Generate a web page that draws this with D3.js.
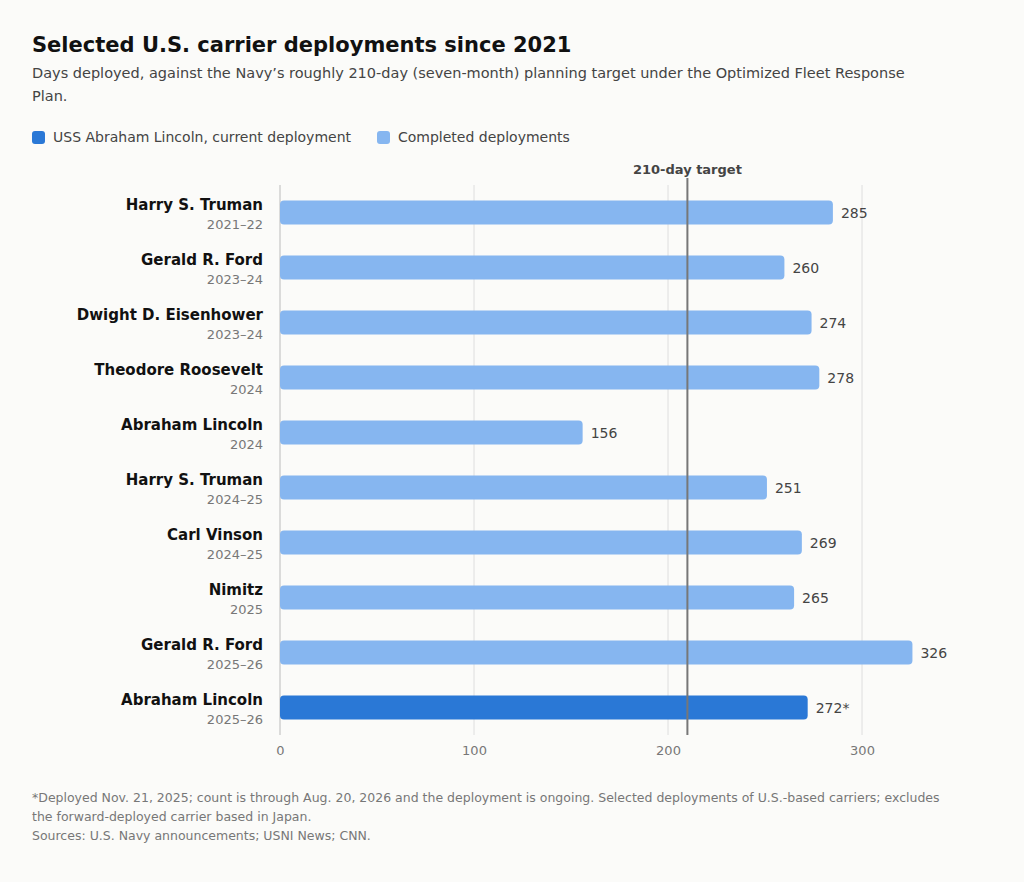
<!DOCTYPE html>
<html><head><meta charset="utf-8">
<script src="https://cdn.jsdelivr.net/npm/d3@7"></script>
<style>
body{margin:0;background:#fbfbf9;font-family:"DejaVu Sans",sans-serif;}
</style></head>
<body><svg id="chart" width="1024" height="882"></svg>
<script>
// data
const carriers = ['Harry S. Truman','Gerald R. Ford','Dwight D. Eisenhower','Theodore Roosevelt','Abraham Lincoln','Harry S. Truman','Carl Vinson','Nimitz','Gerald R. Ford','Abraham Lincoln']
const years = ['2021–22','2023–24','2023–24','2024','2024','2024–25','2024–25','2025','2025–26','2025–26']
const days = [285,260,274,278,156,251,269,265,326,272]
const current = [false,false,false,false,false,false,false,false,false,true]
const ticks = [0,100,200,300]
const target = 210

const svg = d3.select('#chart')
svg.append('rect').attr('width',1024).attr('height',882).attr('fill','#fbfbf9')

const x = d3.scaleLinear().domain([0,100]).range([280,474])
const y = d3.scaleBand().domain(d3.range(days.length)).range([185,735]).paddingInner(0.56).paddingOuter(0.28)

svg.append('text').attr('x',32).attr('y',52).attr('font-size',21).attr('font-weight','bold').attr('fill','#111')
    .text('Selected U.S. carrier deployments since 2021')
const sub = ['Days deployed, against the Navy’s roughly 210-day (seven-month) planning target under the Optimized Fleet Response','Plan.']
svg.selectAll('.sub').data(sub).enter().append('text').attr('x',32).attr('y',(d,i)=>78+i*23)
    .attr('font-size',14.5).attr('fill','#444').text(d=>d)

// legend
const leg = [['USS Abraham Lincoln, current deployment','#2a78d6',32],['Completed deployments','#86b6f0',377]]
leg.forEach(l=>{
    svg.append('rect').attr('x',l[2]).attr('y',131).attr('width',13).attr('height',13).attr('rx',3).attr('fill',l[1])
    svg.append('text').attr('x',l[2]+21).attr('y',142).attr('font-size',14).attr('fill','#444').text(l[0])
})

// grid
svg.selectAll('.grid').data(ticks.slice(1)).enter().append('line')
    .attr('x1',d=>x(d)).attr('x2',d=>x(d)).attr('y1',185).attr('y2',735).attr('stroke','#dedede')
svg.append('line').attr('x1',280).attr('x2',280).attr('y1',185).attr('y2',735).attr('stroke','#bbb')

const axis = svg.append('g').attr('transform','translate(0,735)').call(d3.axisBottom(x).tickValues(ticks).tickSize(0).tickPadding(11))
axis.select('.domain').remove()
axis.selectAll('text').attr('font-size',13).attr('fill','#777').attr('font-family','DejaVu Sans')

// bars
svg.selectAll('.bar').data(days).enter().append('rect')
    .attr('x',x(0)).attr('y',(d,i)=>y(i)).attr('width',d=>x(d)-x(0)).attr('height',y.bandwidth())
    .attr('rx',4).attr('fill',(d,i)=>current[i]?'#2a78d6':'#86b6f0')

svg.selectAll('.val').data(days).enter().append('text')
    .attr('x',d=>x(d)+8).attr('y',(d,i)=>y(i)+y.bandwidth()/2+5).attr('font-size',14).attr('fill','#444')
    .text((d,i)=>current[i]?d+'*':d)

svg.selectAll('.name').data(carriers).enter().append('text')
    .attr('x',263).attr('y',(d,i)=>y(i)+y.bandwidth()/2-3).attr('text-anchor','end')
    .attr('font-size',15).attr('font-weight','bold').attr('fill','#111').text(d=>d)
svg.selectAll('.yr').data(years).enter().append('text')
    .attr('x',263).attr('y',(d,i)=>y(i)+y.bandwidth()/2+16).attr('text-anchor','end')
    .attr('font-size',13).attr('fill','#777').text(d=>d)

// target line
svg.append('line').attr('x1',x(target)).attr('x2',x(target)).attr('y1',178).attr('y2',735).attr('stroke','#777').attr('stroke-width',2)
svg.append('text').attr('x',x(target)).attr('y',174).attr('text-anchor','middle').attr('font-size',13)
    .attr('font-weight','bold').attr('fill','#444').text('210-day target')

const notes = ['*Deployed Nov. 21, 2025; count is through Aug. 20, 2026 and the deployment is ongoing. Selected deployments of U.S.-based carriers; excludes','the forward-deployed carrier based in Japan.','Sources: U.S. Navy announcements; USNI News; CNN.']
svg.selectAll('.note').data(notes).enter().append('text').attr('x',32).attr('y',(d,i)=>802+i*19)
    .attr('font-size',12.5).attr('fill','#777').text(d=>d)
</script></body></html>
